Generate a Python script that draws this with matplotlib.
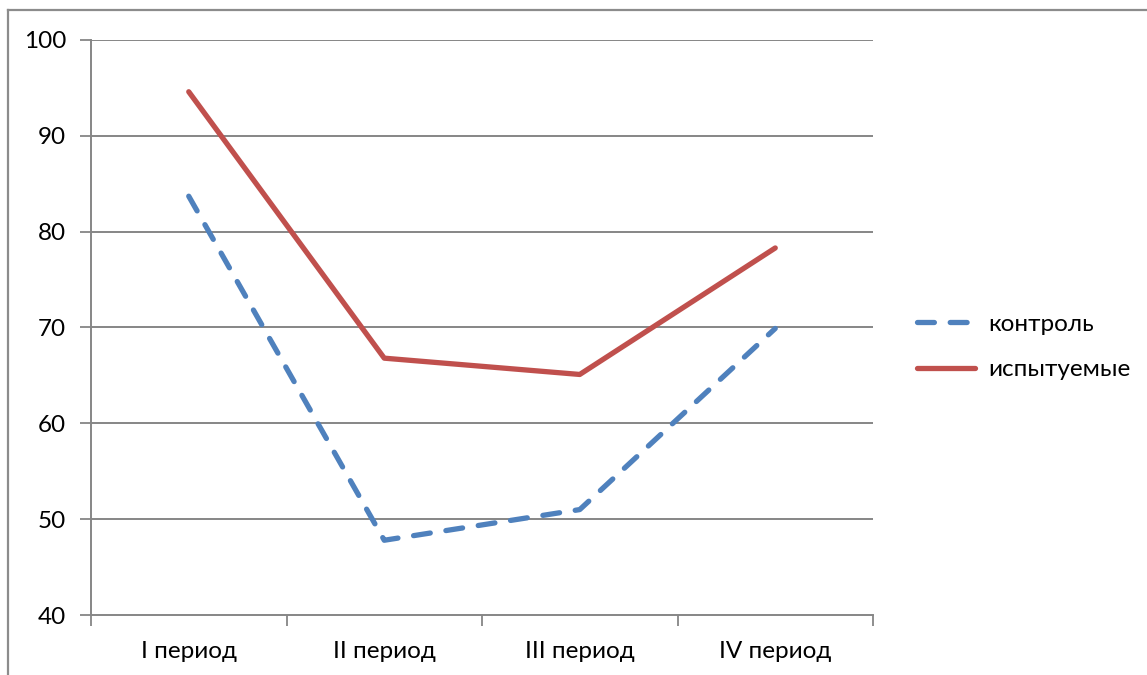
import matplotlib
matplotlib.use("Agg")
import matplotlib.pyplot as plt
from matplotlib.lines import Line2D

periods = ["I период", "II период", "III период", "IV период"]
control = [83.7, 47.8, 51.0, 69.9]
subjects = [94.6, 66.8, 65.1, 78.3]
series_names = ["контроль", "испытуемые"]
y_ticks = [40, 50, 60, 70, 80, 90, 100]

plt.rcParams["font.family"] = ["Lato", "DejaVu Sans"]

W, H = 1147, 675
fig = plt.figure(figsize=(W / 100, H / 100), dpi=100)
ax = fig.add_axes([91 / W, 1 - 615 / H, (873 - 91) / W, (615 - 40) / H])

grid_c = "#868686"
blue = "#4F81BD"
red = "#C0504D"
fs = 17.5

x = [i + 0.5 for i in range(len(periods))]
ax.plot(x, control, color=blue, lw=3.8, dashes=(3.2, 3.0),
        dash_capstyle="round", solid_capstyle="round", label=series_names[0])
ax.plot(x, subjects, color=red, lw=3.8, solid_capstyle="round",
        label=series_names[1])

ax.set_xlim(0, len(periods))
ax.set_ylim(40, 100)
ax.set_yticks(y_ticks)
ax.set_xticks(range(len(periods) + 1))
ax.set_xticks(x, minor=True)
ax.set_xticklabels([""] * (len(periods) + 1))
ax.set_xticklabels(periods, minor=True)
ax.tick_params(axis="x", which="minor", length=0, pad=19, labelsize=fs)
ax.tick_params(axis="x", which="major", length=8, width=1.3, color=grid_c)
ax.tick_params(axis="y", length=8, width=1.3, color=grid_c, pad=10, labelsize=fs)

for y in y_ticks[1:]:
    ax.axhline(y, color=grid_c, lw=1.4, zorder=0)

for s in ["top", "right"]:
    ax.spines[s].set_visible(False)
for s in ["left", "bottom"]:
    ax.spines[s].set_color(grid_c)
    ax.spines[s].set_linewidth(1.4)

handles = [
    Line2D([], [], color=blue, lw=3.8, dashes=(3.2, 3.0), dash_capstyle="round"),
    Line2D([], [], color=red, lw=3.8, solid_capstyle="round"),
]
fig.legend(handles, series_names, loc="center left",
           bbox_to_anchor=(895 / W, 1 - 347 / H), frameon=False,
           fontsize=fs, handlelength=2.4, handletextpad=0.55,
           labelspacing=1.0)

# chart frame
fig.add_artist(Line2D([8 / W, 8 / W], [0, 1 - 10 / H], transform=fig.transFigure,
                      color="#8c8c8c", lw=1.6))
fig.add_artist(Line2D([8 / W, 1], [1 - 10 / H, 1 - 10 / H], transform=fig.transFigure,
                      color="#8c8c8c", lw=1.6))

fig.savefig("out.png", dpi=100)
